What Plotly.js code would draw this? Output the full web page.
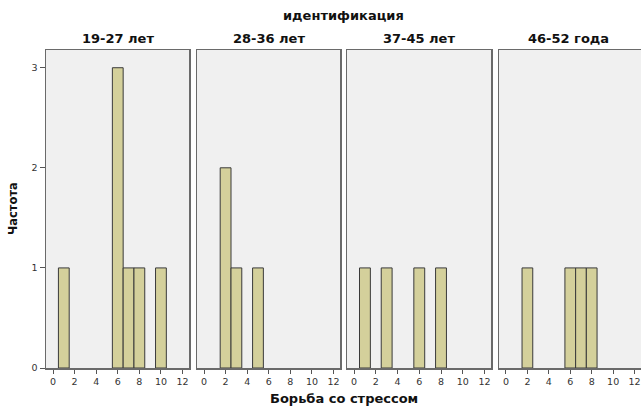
<!DOCTYPE html>
<html>
<head>
<meta charset="utf-8">
<script src="https://cdn.plot.ly/plotly-3.0.1.min.js"></script>
<style>html,body{margin:0;padding:0;background:#fff;}#chart{width:641px;height:406px;}</style>
</head>
<body>
<div id="chart"></div>
<script>
const panelTitles = ["19-27 лет", "28-36 лет", "37-45 лет", "46-52 года"];
const g1X = [1, 6, 7, 8, 10];
const g1Y = [1, 3, 1, 1, 1];
const g2X = [2, 3, 5];
const g2Y = [2, 1, 1];
const g3X = [1, 3, 6, 8];
const g3Y = [1, 1, 1, 1];
const g4X = [2, 6, 7, 8];
const g4Y = [1, 1, 1, 1];
const xTicks = [0, 2, 4, 6, 8, 10, 12];
const yTicks = [0, 1, 2, 3];
const mainTitle = "идентификация";
const xTitle = "Борьба со стрессом";
const yTitle = "Частота";

const groups = [[g1X, g1Y], [g2X, g2Y], [g3X, g3Y], [g4X, g4Y]];
const W = 641, ml = 46, mr = 0;
const pw = W - ml - mr;
const px = [[46, 189], [197, 340], [347, 491], [499, 641]];
const doms = px.map(p => [(p[0] - ml) / pw, Math.min(1, (p[1] - ml) / pw)]);

const font = "DejaVu Sans, Verdana, sans-serif";
const traces = groups.map((g, i) => ({
  type: "bar",
  x: g[0], y: g[1],
  width: 1,
  xaxis: i === 0 ? "x" : "x" + (i + 1),
  yaxis: i === 0 ? "y" : "y" + (i + 1),
  marker: {color: "#d4d09b", line: {color: "#3a3a3a", width: 1}},
  showlegend: false,
  hoverinfo: "x+y"
}));

const layout = {
  width: 641, height: 406,
  margin: {l: ml, r: mr, t: 50, b: 38},
  paper_bgcolor: "#ffffff",
  plot_bgcolor: "#f0f0f0",
  font: {family: font, color: "#222", size: 9},
  bargap: 0,
  annotations: [],
  shapes: []
};

doms.forEach((d, i) => {
  const xa = i === 0 ? "xaxis" : "xaxis" + (i + 1);
  const ya = i === 0 ? "yaxis" : "yaxis" + (i + 1);
  const xr = i === 0 ? "x" : "x" + (i + 1);
  layout[xa] = {
    domain: d, range: [-0.65, 12.6], tickvals: xTicks, ticktext: xTicks.map(String),
    ticks: "outside", ticklen: 4, tickcolor: "#555", tickwidth: 1,
    showgrid: false, zeroline: false, showline: true, mirror: true,
    linecolor: "#6a6a6a", linewidth: 1.5, anchor: i === 0 ? "y" : "y" + (i + 1),
    tickfont: {family: font, size: 9.5, color: "#333"}, fixedrange: true
  };
  layout[ya] = {
    domain: [0, 1], range: [0, 3.177], tickvals: yTicks, ticktext: yTicks.map(String),
    ticks: i === 0 ? "outside" : "", ticklen: 5, tickcolor: "#555",
    showticklabels: i === 0,
    showgrid: false, zeroline: false, showline: true, mirror: true,
    linecolor: "#6a6a6a", linewidth: 1.5, anchor: xr,
    tickfont: {family: font, size: 9.5, color: "#333"}, fixedrange: true
  };
  layout.annotations.push({
    text: "<b>" + panelTitles[i] + "</b>", xref: "paper", yref: "paper",
    x: (d[0] + d[1]) / 2 + (i === 3 ? -0.002 : 0), xanchor: "center",
    y: 1, yanchor: "bottom", yshift: 2,
    showarrow: false, font: {family: font, size: 13, color: "#111"}
  });
});

layout.annotations.push({
  text: "<b>" + mainTitle + "</b>", xref: "paper", yref: "paper",
  x: 0.5, xanchor: "center", y: 1, yanchor: "middle", yshift: 35, showarrow: false,
  font: {family: font, size: 13, color: "#111"}
});
layout.annotations.push({
  text: "<b>" + xTitle + "</b>", xref: "paper", yref: "paper",
  x: 0.5, xanchor: "center", y: 0, yanchor: "middle", yshift: -30, showarrow: false,
  font: {family: font, size: 13, color: "#111"}
});
layout.annotations.push({
  text: "<b>" + yTitle + "</b>", xref: "paper", yref: "paper",
  x: 0, xanchor: "center", xshift: -33, y: 0.5, textangle: -90, showarrow: false,
  font: {family: font, size: 11.5, color: "#111"}
});

Plotly.newPlot("chart", traces, layout, {displayModeBar: false, staticPlot: true});
</script>
</body>
</html>
